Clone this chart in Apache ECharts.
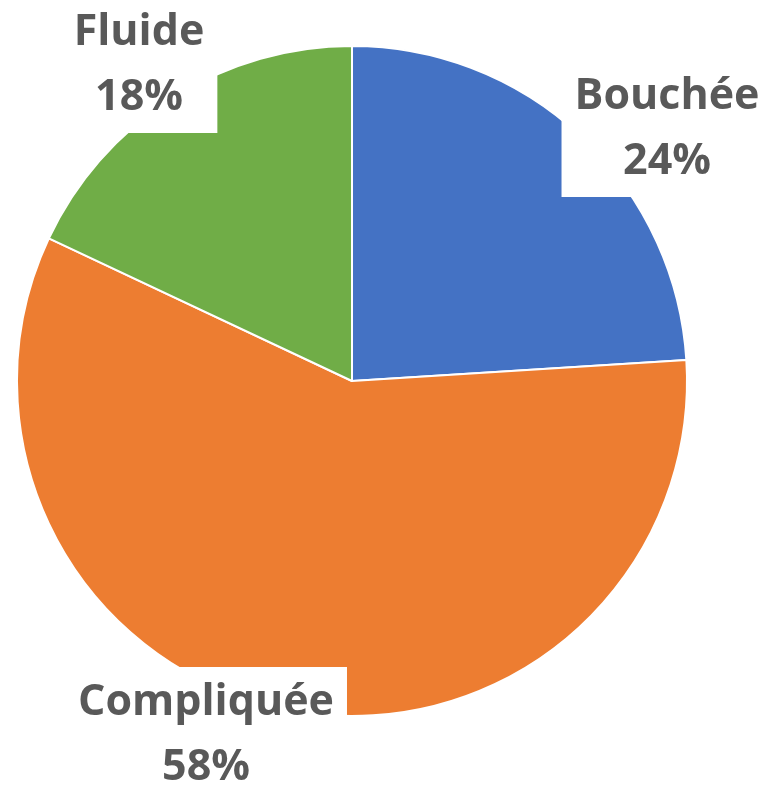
<!DOCTYPE html>
<html>
<head>
<meta charset="utf-8">
<script src="https://cdn.jsdelivr.net/npm/echarts@6/dist/echarts.min.js"></script>
<style>
  html, body { margin: 0; padding: 0; background: #fff; }
  #main { width: 768px; height: 785px; }
</style>
</head>
<body>
<div id="main"></div>
<script>
const categories = ['Bouchée', 'Compliquée', 'Fluide'];
const values = [24, 58, 18];
const colorList = ['#4472C4', '#ED7D31', '#70AD47'];
// label anchor points (centre of the text block)
const labelSpots = [[667, 129], [206, 735], [139, 65]];

const chart = echarts.init(document.getElementById('main'));
const option = {
  animation: false,
  series: [
    {
      type: 'pie',
      center: [352, 381],
      radius: 335,
      startAngle: 90,
      clockwise: true,
      itemStyle: {
        borderColor: '#fff',
        borderWidth: 2,
        color: (params) => colorList[params.dataIndex]
      },
      label: {
        show: true,
        position: 'inside',
        formatter: '{b}\n{d}%',
        fontFamily: 'Open Sans',
        fontWeight: 'bold',
        fontSize: 43,
        lineHeight: 65,
        color: '#595959',
        backgroundColor: '#fff',
        padding: [3, 13],
        align: 'center'
      },
      labelLine: { show: false },
      labelLayout: (params) => ({
        x: labelSpots[params.dataIndex][0],
        y: labelSpots[params.dataIndex][1],
        align: 'center',
        verticalAlign: 'middle'
      }),
      data: categories.map((name, i) => ({ name, value: values[i] }))
    }
  ]
};
chart.setOption(option);
</script>
</body>
</html>
